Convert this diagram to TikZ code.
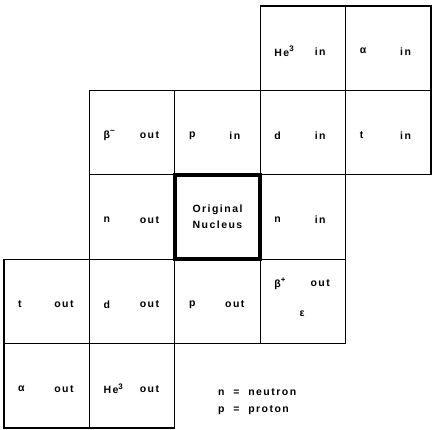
\documentclass[tikz,border=0pt]{standalone}
\usepackage{fontspec}
\setmainfont{Liberation Sans}[LetterSpace=14]
\begin{document}
\begin{tikzpicture}[x=1pt,y=-1pt,
  cell/.style={draw, line width=1.3pt, minimum width=85.4pt, minimum height=84.4pt, inner sep=0pt, outer sep=0pt, anchor=north west},
  orig/.style={cell, line width=4.5pt},
  lab/.style={font=\fontsize{10.5}{12}\selectfont\bfseries, inner sep=0pt},
  lft/.style={lab, anchor=west},
  rgt/.style={lab, anchor=center}]
\useasboundingbox (0,0) rectangle (433,430);
% row 1
\node[cell] (c14) at (260.2,6) {};
\node[cell] (c15) at (345.6,6) {};
% row 2
\node[cell] (c22) at (89.4,90.4) {};
\node[cell] (c23) at (174.8,90.4) {};
\node[cell] (c24) at (260.2,90.4) {};
\node[cell] (c25) at (345.6,90.4) {};
% row 3
\node[cell] (c32) at (89.4,174.8) {};
\node[cell] (c34) at (260.2,174.8) {};
% row 4
\node[cell] (c41) at (4,259.2) {};
\node[cell] (c42) at (89.4,259.2) {};
\node[cell] (c43) at (174.8,259.2) {};
\node[cell] (c44) at (260.2,259.2) {};
% row 5
\node[cell] (c51) at (4,343.6) {};
\node[cell] (c52) at (89.4,343.6) {};
% original nucleus
\node[orig] (c33) at (174.8,174.8) {};
% labels
\newcommand{\celltext}[3]{%
  \node[lft] at ([xshift=14pt,yshift=-3pt]#1.west) {#2};
  \node[rgt] at ([xshift=60pt,yshift=-3pt]#1.west) {#3};}
\newcommand{\sups}[1]{\raisebox{0.45em}{\fontsize{8}{9}\selectfont #1}}
\celltext{c14}{He\sups{3}}{in}
\celltext{c15}{α}{in}
\celltext{c22}{β\sups{−}}{out}
\celltext{c23}{p}{in}
\celltext{c24}{d}{in}
\celltext{c25}{t}{in}
\celltext{c32}{n}{out}
\celltext{c34}{n}{in}
\celltext{c41}{t}{out}
\celltext{c42}{d}{out}
\celltext{c43}{p}{out}
\celltext{c51}{α}{out}
\celltext{c52}{He\sups{3}}{out}
\node[lft] at ([xshift=14pt,yshift=18pt]c44.west) {β\sups{+}};
\node[rgt] at ([xshift=60pt,yshift=18pt]c44.west) {out};
\node[lab] at ([xshift=42pt,yshift=-12pt]c44.west) {ε};
\node[lab, align=center] at (c33.center) {Original\\[4pt]Nucleus};
% legend
\node[lft] (l1) at (218,392) {n \ = \ neutron};
\node[lft] (l2) at (218,410) {p \ = \ proton};
\end{tikzpicture}
\end{document}
